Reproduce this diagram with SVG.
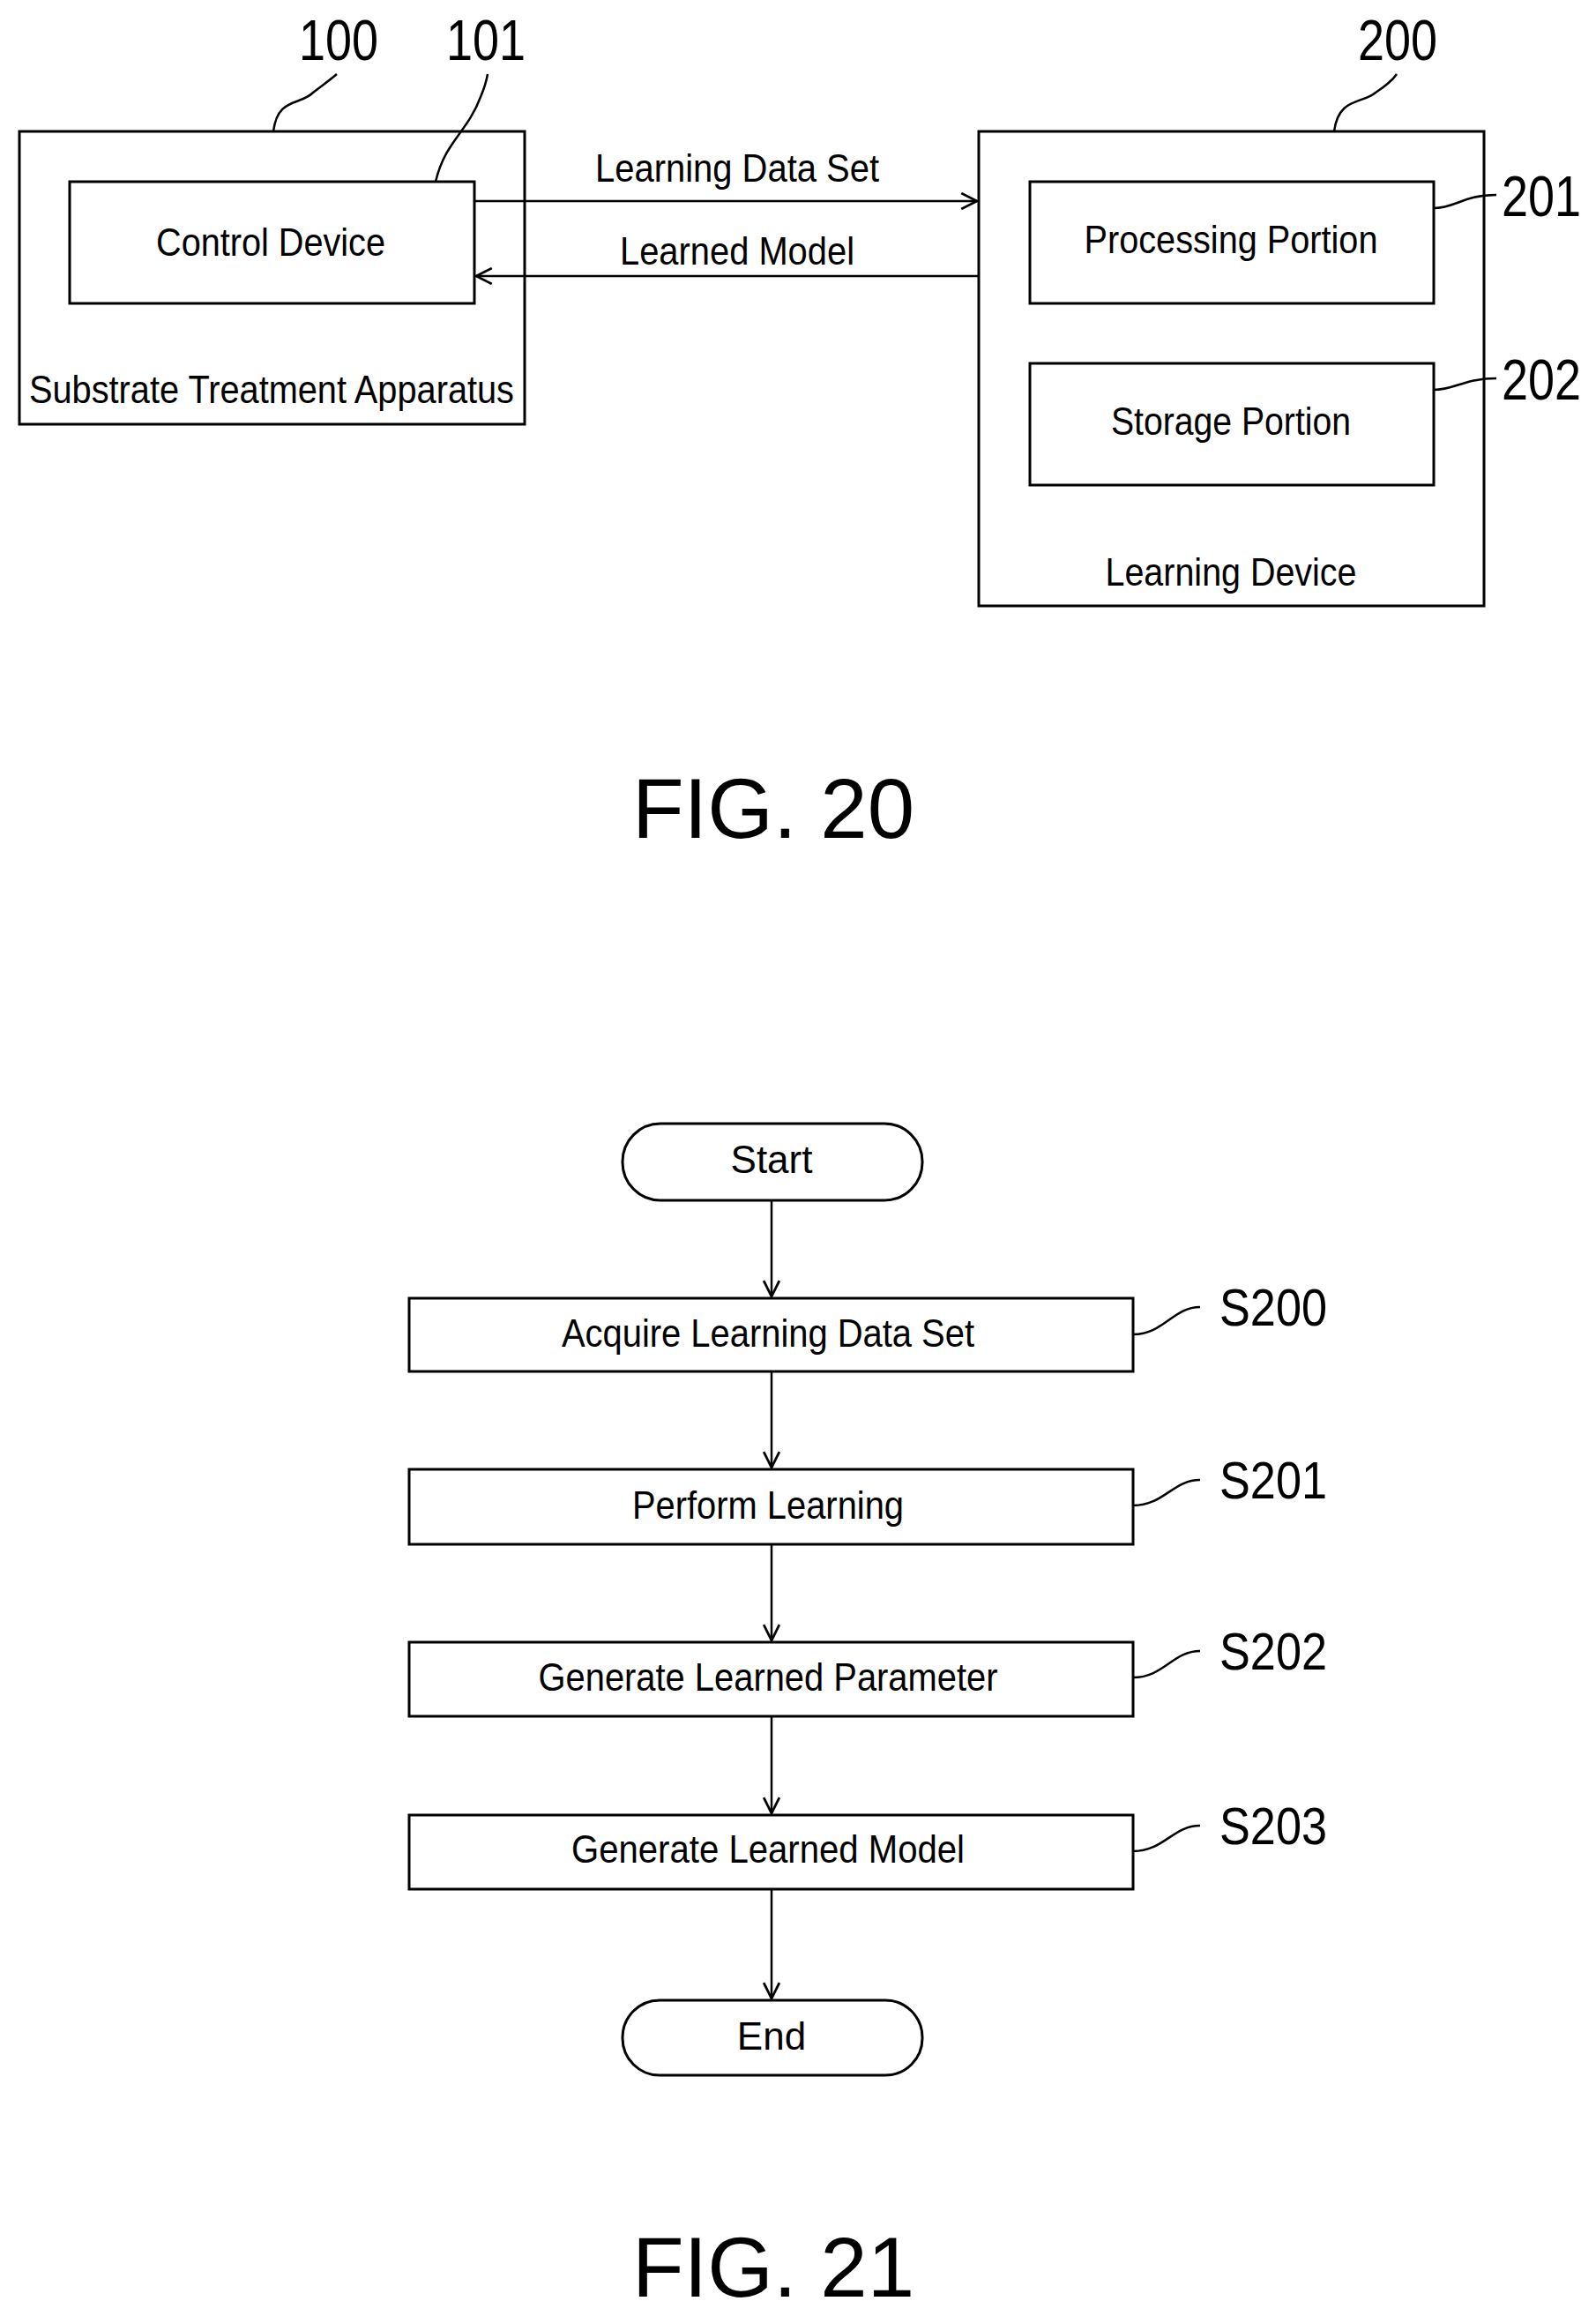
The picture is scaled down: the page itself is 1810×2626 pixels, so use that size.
<svg xmlns="http://www.w3.org/2000/svg" width="1810" height="2626" viewBox="0 0 1810 2626">
<style>
.b{fill:#fff;stroke:#000;stroke-width:3}
.l{fill:none;stroke:#000;stroke-width:2.5}
.t{font-family:"Liberation Sans",Arial,sans-serif;font-size:44px;text-anchor:middle;fill:#000}
.n{font-family:"Liberation Sans",Arial,sans-serif;font-size:64px;text-anchor:middle;fill:#000}
.f{font-family:"Liberation Sans",Arial,sans-serif;font-size:96px;text-anchor:middle;fill:#000}
.s{font-family:"Liberation Sans",Arial,sans-serif;font-size:60px;text-anchor:start;fill:#000}
</style>
<defs>
<marker id="a" markerWidth="24" markerHeight="20" refX="18" refY="9" orient="auto" markerUnits="userSpaceOnUse" viewBox="0 0 20 18">
<path d="M2,1 L18,9 L2,17" fill="none" stroke="#000" stroke-width="2.5"/>
</marker>
</defs>
<rect width="1810" height="2626" fill="#fff"/>
<g id="n100"><rect class="b" x="22" y="149" width="573" height="332"/><text class="t" x="308" y="457" textLength="550" lengthAdjust="spacingAndGlyphs">Substrate Treatment Apparatus</text></g>
<g id="n101"><rect class="b" x="79" y="206" width="459" height="138"/><text class="t" x="307" y="290" textLength="260" lengthAdjust="spacingAndGlyphs">Control Device</text></g>
<g id="n200"><rect class="b" x="1110" y="149" width="573" height="538"/><text class="t" x="1396" y="664" textLength="285" lengthAdjust="spacingAndGlyphs">Learning Device</text></g>
<g id="n201"><rect class="b" x="1168" y="206" width="458" height="138"/><text class="t" x="1396" y="287" textLength="333" lengthAdjust="spacingAndGlyphs">Processing Portion</text></g>
<g id="n202"><rect class="b" x="1168" y="412" width="458" height="138"/><text class="t" x="1396" y="493" textLength="272" lengthAdjust="spacingAndGlyphs">Storage Portion</text></g>
<g id="refs">
<text class="n" x="384" y="68" textLength="90" lengthAdjust="spacingAndGlyphs">100</text>
<text class="n" x="551" y="68" textLength="90" lengthAdjust="spacingAndGlyphs">101</text>
<text class="n" x="1585" y="68" textLength="90" lengthAdjust="spacingAndGlyphs">200</text>
<text class="n" x="1748" y="245" textLength="90" lengthAdjust="spacingAndGlyphs">201</text>
<text class="n" x="1748" y="453" textLength="90" lengthAdjust="spacingAndGlyphs">202</text>
<path class="l" d="M310,149 C315,110 340,120 355,105 C368,95 375,90 382,84"/>
<path class="l" d="M494,206 C505,160 530,150 545,110 C550,98 552,90 553,84"/>
<path class="l" d="M1513,149 C1518,110 1545,118 1560,105 C1575,95 1580,90 1584,84"/>
<path class="l" d="M1626,236 C1650,236 1660,221 1697,221"/>
<path class="l" d="M1626,442 C1650,442 1660,429 1697,429"/>
</g>
<g id="connectors">
<line class="l" x1="538" y1="228" x2="1108" y2="228" marker-end="url(#a)"/>
<line class="l" x1="1110" y1="313" x2="540" y2="313" marker-end="url(#a)"/>
<line class="l" x1="875" y1="1361" x2="875" y2="1470" marker-end="url(#a)"/>
<line class="l" x1="875" y1="1555" x2="875" y2="1664" marker-end="url(#a)"/>
<line class="l" x1="875" y1="1751" x2="875" y2="1860" marker-end="url(#a)"/>
<line class="l" x1="875" y1="1946" x2="875" y2="2056" marker-end="url(#a)"/>
<line class="l" x1="875" y1="2142" x2="875" y2="2266" marker-end="url(#a)"/>
</g>
<g id="labels">
<text class="t" x="836" y="206" textLength="322" lengthAdjust="spacingAndGlyphs">Learning Data Set</text>
<text class="t" x="836" y="300" textLength="266" lengthAdjust="spacingAndGlyphs">Learned Model</text>
</g>
<text class="f" x="877" y="950">FIG. 20</text>
<g id="start"><rect class="b" x="706" y="1274" width="340" height="87" rx="43"/><text class="t" x="875" y="1330">Start</text></g>
<g id="s200"><rect class="b" x="464" y="1472" width="821" height="83"/><text class="t" x="871" y="1527" textLength="468" lengthAdjust="spacingAndGlyphs">Acquire Learning Data Set</text></g>
<g id="s201"><rect class="b" x="464" y="1666" width="821" height="85"/><text class="t" x="871" y="1722" textLength="308" lengthAdjust="spacingAndGlyphs">Perform Learning</text></g>
<g id="s202"><rect class="b" x="464" y="1862" width="821" height="84"/><text class="t" x="871" y="1917" textLength="521" lengthAdjust="spacingAndGlyphs">Generate Learned Parameter</text></g>
<g id="s203"><rect class="b" x="464" y="2058" width="821" height="84"/><text class="t" x="871" y="2112" textLength="446" lengthAdjust="spacingAndGlyphs">Generate Learned Model</text></g>
<g id="end"><rect class="b" x="706" y="2268" width="340" height="85" rx="42"/><text class="t" x="875" y="2324">End</text></g>
<g id="steprefs">
<text class="s" x="1383" y="1503" textLength="122" lengthAdjust="spacingAndGlyphs">S200</text>
<text class="s" x="1383" y="1699" textLength="122" lengthAdjust="spacingAndGlyphs">S201</text>
<text class="s" x="1383" y="1893" textLength="122" lengthAdjust="spacingAndGlyphs">S202</text>
<text class="s" x="1383" y="2091" textLength="122" lengthAdjust="spacingAndGlyphs">S203</text>
<path class="l" d="M1285,1513 C1320,1513 1330,1482 1361,1482"/>
<path class="l" d="M1285,1707 C1320,1707 1330,1678 1361,1678"/>
<path class="l" d="M1285,1902 C1320,1902 1330,1872 1361,1872"/>
<path class="l" d="M1285,2099 C1320,2099 1330,2070 1361,2070"/>
</g>
<text class="f" x="877" y="2604">FIG. 21</text>
</svg>
